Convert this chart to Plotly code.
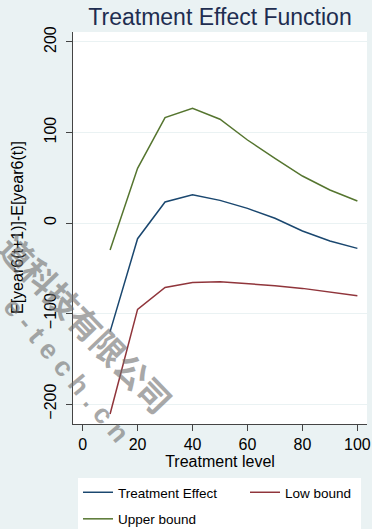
import plotly.graph_objects as go

treatment_level = [10, 20, 30, 40, 50, 60, 70, 80, 90, 100]
treatment_effect = [-120, -17.3, 23.2, 31.3, 25.0, 16.2, 5.2, -8.8, -19.9, -28.0]
low_bound = [-211, -95.4, -71.1, -65.6, -64.8, -66.7, -69.2, -72.2, -75.9, -80.3]
upper_bound = [-29.8, 60.4, 116.4, 126.7, 114.6, 91.7, 71.5, 51.9, 36.5, 24.3]

x_ticks = [0, 20, 40, 60, 80, 100]
y_ticks = [-200, -100, 0, 100, 200]

NAVY = "#1a476f"
MAROON = "#90353b"
GREEN = "#55752f"
BG = "#eaf2f3"

W, H = 372, 529
L, R, T, B = 73, 5, 32, 105
pw, ph = W - L - R, H - T - B


def px2paper(px, py):
    return (px - L) / pw, (H - B - py) / ph


def cx(px):
    return px / W


def cy(py):
    return 1 - py / H


fig = go.Figure()
fig.add_trace(go.Scatter(x=treatment_level, y=treatment_effect, mode="lines",
                         name="Treatment Effect", legend="legend", legendgroup="a",
                         line=dict(color=NAVY, width=1.5)))
fig.add_trace(go.Scatter(x=treatment_level, y=low_bound, mode="lines",
                         name="Low bound", legend="legend2", legendgroup="b",
                         line=dict(color=MAROON, width=1.5)))
fig.add_trace(go.Scatter(x=treatment_level, y=upper_bound, mode="lines",
                         name="Upper bound", legend="legend", legendgroup="c",
                         line=dict(color=GREEN, width=1.5)))

leg_common = dict(xref="container", yref="container", xanchor="left", yanchor="top",
                  bgcolor="rgba(0,0,0,0)", font=dict(size=13.5),
                  traceorder="grouped", tracegroupgap=6, orientation="v")

fig.update_layout(
    width=W, height=H,
    margin=dict(l=L, r=R, t=T, b=B, autoexpand=False),
    paper_bgcolor=BG, plot_bgcolor="white",
    font=dict(family="Liberation Sans, Arial, sans-serif", color="#000000"),
    title=dict(text="Treatment Effect Function", x=220 / W, xanchor="center",
               y=1 - 17 / H, yanchor="middle",
               font=dict(size=23, color="#1e2d50")),
    xaxis=dict(range=[-3.5, 103.5], tickvals=x_ticks, ticks="outside", ticklen=6,
               tickcolor="#444", showline=True, linecolor="#444", linewidth=1,
               showgrid=False, zeroline=False, tickfont=dict(size=16),
               title=dict(text="Treatment level", font=dict(size=16), standoff=0)),
    yaxis=dict(range=[-222, 211], tickvals=y_ticks, ticks="outside", ticklen=6,
               tickcolor="#444", showline=True, linecolor="#444", linewidth=1,
               showgrid=True, gridcolor=BG, gridwidth=1, zeroline=False,
               tickangle=-90, tickfont=dict(size=16), ticklabelstandoff=4),
    legend=dict(x=cx(78), y=cy(477), **leg_common),
    legend2=dict(x=cx(245), y=cy(477), **leg_common),
    showlegend=True,
)

# y-axis title
yx, yy = px2paper(17, (T + H - B) / 2)
fig.add_annotation(text="E[year6(t+1)]-E[year6(t)]", x=yx, y=yy, xref="paper", yref="paper",
                   showarrow=False, textangle=-90, xanchor="center", yanchor="middle",
                   font=dict(size=16, color="#000000"))

# legend background box
fig.add_shape(type="rect", xref="paper", yref="paper",
              x0=px2paper(78, 0)[0], x1=px2paper(361, 0)[0],
              y0=px2paper(0, 540)[1], y1=px2paper(0, 478)[1],
              fillcolor="white", line=dict(width=0), layer="below")

# watermark
wx, wy = px2paper(86, 323)
fig.add_annotation(text="<b>道科技有限公司</b>", x=wx, y=wy, xref="paper", yref="paper",
                   showarrow=False, textangle=46, opacity=0.6,
                   xanchor="center", yanchor="middle",
                   font=dict(size=33, color="#6f6f6f", family="Noto Sans CJK SC"))
wx2, wy2 = px2paper(66, 370)
fig.add_annotation(text="<b>e - t e c h . c n</b>", x=wx2, y=wy2, xref="paper", yref="paper",
                   showarrow=False, textangle=50, opacity=0.6,
                   xanchor="center", yanchor="middle",
                   font=dict(size=27, color="#6f6f6f", family="Liberation Sans"))

fig.write_html("out.html", config={"displayModeBar": False},
               post_script="document.body.style.margin='0';document.body.style.overflow='hidden';")
